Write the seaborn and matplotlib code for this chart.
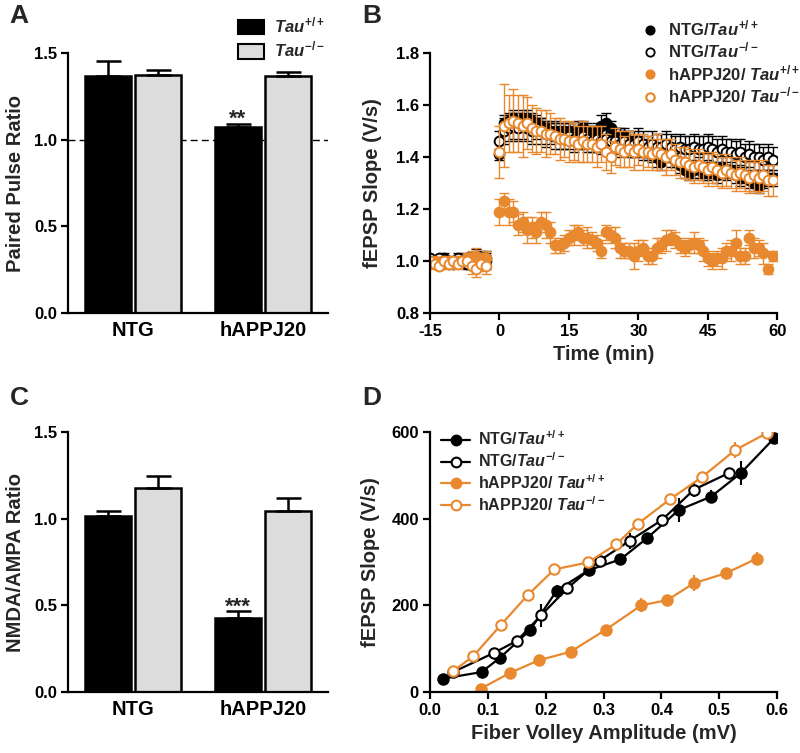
import numpy as np
import pandas as pd
import seaborn as sns
import matplotlib.pyplot as plt
from matplotlib.patches import Patch
from matplotlib.lines import Line2D

sns.set_theme(style='ticks')
plt.rcParams['font.family'] = ['Liberation Sans', 'DejaVu Sans']
plt.rcParams['font.weight'] = 'bold'
plt.rcParams['axes.labelweight'] = 'bold'
plt.rcParams['axes.unicode_minus'] = False
plt.rcParams['mathtext.fontset'] = 'custom'
plt.rcParams['mathtext.it'] = 'Liberation Sans:italic:bold'
plt.rcParams['mathtext.rm'] = 'Liberation Sans:bold'
plt.rcParams['mathtext.bf'] = 'Liberation Sans:bold'

ORANGE = '#E8892F'
GREY = '#DCDCDC'

# ---------------- data ----------------
groups = ['NTG', 'hAPPJ20']
genos = ['wt', 'ko']
# order: NTG wt, NTG ko, hAPPJ20 wt, hAPPJ20 ko
ppr_mean = [1.365, 1.371, 1.071, 1.365]
ppr_sem = [0.087, 0.029, 0.021, 0.023]
nmda_mean = [1.018, 1.176, 0.428, 1.043]
nmda_sem = [0.025, 0.071, 0.037, 0.075]

# panel B : baseline (-15..-3 min) and post-tetanus (0..59 min)
t_base = [-15, -14, -13, -12, -11, -10, -9, -8, -7, -6, -5, -4, -3]
t_post = list(range(0, 60))

ntg_wt_base = [1.00, 0.99, 1.00, 1.01, 1.00, 0.99, 1.00, 1.00, 1.01, 1.00, 1.015, 1.00, 1.01]
ntg_ko_base = [1.01, 1.00, 1.01, 1.00, 0.99, 1.00, 1.01, 1.00, 0.99, 1.00, 1.00, 1.01, 1.00]
app_wt_base = [0.99, 1.00, 0.98, 0.99, 1.00, 0.99, 1.00, 1.00, 1.01, 1.01, 1.02, 1.00, 1.01]
app_ko_base = [1.00, 0.99, 0.98, 1.00, 0.99, 1.00, 0.99, 1.00, 1.00, 0.98, 0.97, 0.99, 0.98]
base_err = [0.01, 0.015, 0.01, 0.02, 0.015, 0.01, 0.02, 0.015, 0.02, 0.03, 0.03, 0.03, 0.03]

ntg_wt_post = [1.41, 1.53, 1.54, 1.55, 1.54, 1.55, 1.55, 1.54, 1.53, 1.52,
               1.51, 1.50, 1.50, 1.49, 1.50, 1.50, 1.49, 1.50, 1.51, 1.50,
               1.49, 1.50, 1.52, 1.53, 1.51, 1.48, 1.47, 1.48, 1.46, 1.44,
               1.45, 1.43, 1.42, 1.41, 1.40, 1.38, 1.41, 1.40, 1.39, 1.37,
               1.35, 1.34, 1.35, 1.36, 1.34, 1.34, 1.35, 1.33, 1.36, 1.34,
               1.35, 1.33, 1.32, 1.33, 1.31, 1.30, 1.29, 1.31, 1.32, 1.32]
ntg_wt_err = [0.02, 0.03, 0.03, 0.03, 0.03, 0.03, 0.03, 0.03, 0.03, 0.03,
              0.03, 0.03, 0.04, 0.03, 0.03, 0.03, 0.04, 0.04, 0.03, 0.03,
              0.03, 0.03, 0.04, 0.04, 0.03, 0.03, 0.04, 0.03, 0.03, 0.04,
              0.03, 0.04, 0.03, 0.03, 0.04, 0.03, 0.03, 0.04, 0.03, 0.03,
              0.03, 0.03, 0.03, 0.04, 0.03, 0.03, 0.03, 0.03, 0.04, 0.03,
              0.03, 0.03, 0.03, 0.03, 0.03, 0.03, 0.03, 0.03, 0.03, 0.03]

ntg_ko_post = [1.46, 1.50, 1.51, 1.52, 1.51, 1.52, 1.51, 1.50, 1.51, 1.50,
               1.49, 1.49, 1.48, 1.48, 1.47, 1.48, 1.47, 1.47, 1.48, 1.47,
               1.46, 1.47, 1.46, 1.47, 1.46, 1.46, 1.45, 1.46, 1.45, 1.45,
               1.46, 1.45, 1.44, 1.45, 1.44, 1.44, 1.45, 1.44, 1.43, 1.44,
               1.43, 1.43, 1.44, 1.43, 1.43, 1.44, 1.43, 1.42, 1.43, 1.42,
               1.42, 1.41, 1.42, 1.40, 1.41, 1.40, 1.40, 1.39, 1.40, 1.39]
ntg_ko_err = [0.04, 0.05, 0.05, 0.05, 0.05, 0.05, 0.05, 0.05, 0.04, 0.05,
              0.05, 0.04, 0.05, 0.05, 0.04, 0.05, 0.05, 0.04, 0.05, 0.05,
              0.04, 0.05, 0.05, 0.04, 0.05, 0.05, 0.05, 0.04, 0.05, 0.05,
              0.05, 0.05, 0.04, 0.05, 0.05, 0.05, 0.05, 0.05, 0.05, 0.05,
              0.05, 0.05, 0.05, 0.05, 0.05, 0.05, 0.05, 0.05, 0.05, 0.05,
              0.05, 0.05, 0.05, 0.05, 0.05, 0.05, 0.05, 0.05, 0.05, 0.05]

app_wt_post = [1.19, 1.23, 1.19, 1.19, 1.14, 1.15, 1.12, 1.13, 1.11, 1.15,
               1.14, 1.11, 1.06, 1.06, 1.07, 1.09, 1.10, 1.11, 1.09, 1.09,
               1.08, 1.07, 1.04, 1.11, 1.10, 1.09, 1.05, 1.04, 1.04, 1.02,
               1.04, 1.05, 1.02, 1.02, 1.05, 1.06, 1.08, 1.09, 1.08, 1.06,
               1.05, 1.06, 1.07, 1.06, 1.04, 1.01, 1.00, 1.01, 1.01, 1.04,
               1.04, 1.07, 1.02, 1.02, 1.09, 1.05, 1.05, 1.03, 0.97, 1.02]
app_wt_err = [0.05, 0.03, 0.05, 0.04, 0.04, 0.04, 0.05, 0.04, 0.04, 0.04,
              0.05, 0.04, 0.03, 0.03, 0.03, 0.03, 0.04, 0.03, 0.03, 0.04,
              0.03, 0.03, 0.03, 0.03, 0.03, 0.04, 0.04, 0.03, 0.03, 0.05,
              0.04, 0.03, 0.03, 0.03, 0.04, 0.03, 0.04, 0.03, 0.03, 0.03,
              0.03, 0.03, 0.04, 0.03, 0.04, 0.03, 0.03, 0.03, 0.04, 0.03,
              0.04, 0.05, 0.03, 0.03, 0.03, 0.04, 0.03, 0.04, 0.02, 0.02]

app_ko_post = [1.42, 1.52, 1.53, 1.54, 1.53, 1.52, 1.53, 1.51, 1.50, 1.50,
               1.49, 1.49, 1.48, 1.47, 1.47, 1.46, 1.46, 1.45, 1.46, 1.45,
               1.45, 1.44, 1.45, 1.42, 1.40, 1.44, 1.43, 1.42, 1.43, 1.42,
               1.43, 1.42, 1.42, 1.41, 1.42, 1.41, 1.40, 1.41, 1.39, 1.38,
               1.38, 1.37, 1.36, 1.37, 1.36, 1.35, 1.36, 1.35, 1.34, 1.35,
               1.34, 1.33, 1.34, 1.33, 1.32, 1.33, 1.32, 1.33, 1.31, 1.31]
app_ko_err = [0.10, 0.16, 0.11, 0.12, 0.11, 0.12, 0.10, 0.09, 0.09, 0.08,
              0.09, 0.08, 0.07, 0.08, 0.07, 0.08, 0.07, 0.07, 0.08, 0.07,
              0.07, 0.08, 0.07, 0.07, 0.06, 0.07, 0.07, 0.06, 0.07, 0.07,
              0.06, 0.07, 0.06, 0.06, 0.07, 0.06, 0.07, 0.06, 0.06, 0.06,
              0.06, 0.06, 0.06, 0.06, 0.06, 0.06, 0.06, 0.06, 0.06, 0.06,
              0.06, 0.06, 0.06, 0.06, 0.06, 0.06, 0.06, 0.06, 0.06, 0.06]

# panel D : input-output curves
fv_ntg_wt = [0.023, 0.089, 0.121, 0.173, 0.219, 0.274, 0.329, 0.375, 0.430, 0.486, 0.537, 0.595]
io_ntg_wt = [31, 46, 79, 143, 234, 281, 306, 355, 420, 451, 505, 586]
er_ntg_wt = [6, 6, 10, 10, 12, 14, 12, 12, 28, 14, 28, 8]
fv_ntg_ko = [0.040, 0.110, 0.150, 0.192, 0.237, 0.293, 0.345, 0.401, 0.456, 0.516]
io_ntg_ko = [46, 90, 118, 177, 239, 303, 349, 397, 467, 505]
er_ntg_ko = [6, 8, 10, 26, 12, 12, 18, 10, 18, 12]
fv_app_wt = [0.088, 0.138, 0.1875, 0.243, 0.304, 0.365, 0.410, 0.456, 0.511, 0.565]
io_app_wt = [8, 44, 73, 93, 144, 200, 212, 251, 274, 308]
er_app_wt = [6, 6, 6, 6, 8, 16, 10, 18, 12, 16]
fv_app_ko = [0.040, 0.075, 0.122, 0.169, 0.215, 0.273, 0.322, 0.359, 0.415, 0.470, 0.527, 0.583]
io_app_ko = [48, 83, 154, 224, 283, 299, 341, 388, 445, 496, 558, 598]
er_app_ko = [6, 6, 8, 8, 8, 8, 10, 10, 10, 12, 18, 8]

lab_ntg_wt = r'NTG/$Tau^{+/+}$'
lab_ntg_ko = r'NTG/$Tau^{-/-}$'
lab_app_wt = r'hAPPJ20/ $Tau^{+/+}$'
lab_app_ko = r'hAPPJ20/ $Tau^{-/-}$'

# ---------------- figure ----------------
fig = plt.figure(figsize=(8.0, 7.53), dpi=100)
axA = fig.add_axes([0.085, 0.5843, 0.325, 0.3453])
axB = fig.add_axes([0.5375, 0.5843, 0.434, 0.3453])
axC = fig.add_axes([0.085, 0.0810, 0.325, 0.3453])
axD = fig.add_axes([0.5375, 0.0810, 0.434, 0.3453])


def style_axis(ax):
    sns.despine(ax=ax)
    for s in ['left', 'bottom']:
        ax.spines[s].set_linewidth(1.6)
        ax.spines[s].set_color('black')
    ax.tick_params(direction='out', length=5, width=1.6, labelsize=12, colors='black', pad=3)
    for lab in ax.get_xticklabels() + ax.get_yticklabels():
        lab.set_fontweight('bold')


def bar_panel(ax, means, sems, ylabel, stars):
    df = pd.DataFrame({'group': [groups[0], groups[0], groups[1], groups[1]],
                       'geno': [genos[0], genos[1], genos[0], genos[1]],
                       'value': means})
    sns.barplot(data=df, x='group', y='value', hue='geno', hue_order=genos,
                palette=['black', GREY], edgecolor='black', linewidth=1.8,
                width=0.77, gap=0.08, errorbar=None, legend=False, ax=ax)
    sem_by_geno = [[sems[0], sems[2]], [sems[1], sems[3]]]
    for cont, errs in zip(ax.containers, sem_by_geno):
        for bar, e in zip(cont, errs):
            xc = bar.get_x() + bar.get_width() / 2
            h = bar.get_height()
            ax.errorbar([xc], [h], yerr=[[0], [e]], fmt='none', ecolor='black',
                        elinewidth=1.8, capsize=9, capthick=1.8, zorder=1)
    # significance stars above hAPPJ20 / Tau+/+
    bar = ax.containers[0][1]
    xc = bar.get_x() + bar.get_width() / 2
    ax.text(xc, means[2] + sems[2] - 0.005, stars, ha='center', va='baseline',
            fontsize=16, fontweight='bold')
    ax.set_xlim(-0.5, 1.5)
    ax.set_ylim(0, 1.5)
    ax.set_yticks([0.0, 0.5, 1.0, 1.5])
    ax.set_yticklabels(['0.0', '0.5', '1.0', '1.5'])
    ax.set_xlabel('')
    ax.set_ylabel(ylabel, fontsize=14.5, labelpad=6)
    style_axis(ax)
    ax.tick_params(axis='x', length=0, labelsize=14.5, pad=6)


# ---- A ----
bar_panel(axA, ppr_mean, ppr_sem, 'Paired Pulse Ratio', '**')
axA.axhline(1.0, color='black', lw=1.0, ls=(0, (5, 3)), zorder=0.5)
handlesA = [Patch(facecolor='black', edgecolor='black', linewidth=1.5, label=r'$Tau^{+/+}$'),
            Patch(facecolor=GREY, edgecolor='black', linewidth=1.5, label=r'$Tau^{-/-}$')]
axA.legend(handles=handlesA, loc='upper left', bbox_to_anchor=(0.62, 1.175), frameon=False,
           fontsize=12, handlelength=1.6, handleheight=1.0, labelspacing=0.25,
           handletextpad=0.6, borderpad=0)

# ---- C ----
bar_panel(axC, nmda_mean, nmda_sem, 'NMDA/AMPA Ratio', '***')

# ---- B ----
seriesB = [
    (ntg_wt_base, ntg_wt_post, ntg_wt_err, 'black', 'black'),
    (ntg_ko_base, ntg_ko_post, ntg_ko_err, 'black', 'white'),
    (app_wt_base, app_wt_post, app_wt_err, ORANGE, ORANGE),
    (app_ko_base, app_ko_post, app_ko_err, ORANGE, 'white'),
]
for base, post, err, col, fc in seriesB:
    tt = t_base + t_post
    vv = base + post
    ee = base_err + err
    axB.errorbar(tt, vv, yerr=ee, fmt='none', ecolor=col, elinewidth=1.0,
                 capsize=3.5, capthick=1.0)
    sns.lineplot(x=tt, y=vv, ax=axB, color=col, marker='o', linestyle='',
                 markersize=7, markerfacecolor=fc, markeredgecolor=col,
                 markeredgewidth=1.4, errorbar=None)
axB.set_xlim(-15, 60)
axB.set_ylim(0.8, 1.8)
axB.set_xticks([-15, 0, 15, 30, 45, 60])
axB.set_yticks([0.8, 1.0, 1.2, 1.4, 1.6, 1.8])
axB.set_xlabel('Time (min)', fontsize=14.5, labelpad=4)
axB.set_ylabel('fEPSP Slope (V/s)', fontsize=14.5, labelpad=10)
style_axis(axB)
handlesB = [Line2D([], [], ls='', marker='o', markersize=6, color='black', mfc='black', mew=1.3, label=lab_ntg_wt),
            Line2D([], [], ls='', marker='o', markersize=6, color='black', mfc='white', mew=1.3, label=lab_ntg_ko),
            Line2D([], [], ls='', marker='o', markersize=6, color=ORANGE, mfc=ORANGE, mew=1.3, label=lab_app_wt),
            Line2D([], [], ls='', marker='o', markersize=6, color=ORANGE, mfc='white', mew=1.6, label=lab_app_ko)]
axB.legend(handles=handlesB, loc='upper left', bbox_to_anchor=(0.58, 1.165), frameon=False,
           fontsize=12, labelspacing=0.15, handletextpad=0.5, handlelength=1.2, borderpad=0)

# ---- D ----
seriesD = [
    (fv_ntg_wt, io_ntg_wt, er_ntg_wt, 'black', 'black'),
    (fv_ntg_ko, io_ntg_ko, er_ntg_ko, 'black', 'white'),
    (fv_app_wt, io_app_wt, er_app_wt, ORANGE, ORANGE),
    (fv_app_ko, io_app_ko, er_app_ko, ORANGE, 'white'),
]
for xv, yv, ev, col, fc in seriesD:
    axD.errorbar(xv, yv, yerr=ev, fmt='none', ecolor=col, elinewidth=1.5, capsize=0)
    sns.lineplot(x=xv, y=yv, ax=axD, color=col, marker='o', linewidth=1.6,
                 markersize=7.5, markerfacecolor=fc, markeredgecolor=col,
                 markeredgewidth=1.5, errorbar=None, sort=False)
axD.set_xlim(0, 0.6)
axD.set_ylim(0, 600)
axD.set_xticks([0.0, 0.1, 0.2, 0.3, 0.4, 0.5, 0.6])
axD.set_xticklabels(['0.0', '0.1', '0.2', '0.3', '0.4', '0.5', '0.6'])
axD.set_yticks([0, 200, 400, 600])
axD.set_xlabel('Fiber Volley Amplitude (mV)', fontsize=14.5, labelpad=4)
axD.set_ylabel('fEPSP Slope (V/s)', fontsize=14.5, labelpad=8)
style_axis(axD)
handlesD = [Line2D([], [], marker='o', markersize=7, color='black', mfc='black', lw=1.6, mew=1.5, label=lab_ntg_wt),
            Line2D([], [], marker='o', markersize=7, color='black', mfc='white', lw=1.6, mew=1.5, label=lab_ntg_ko),
            Line2D([], [], marker='o', markersize=7, color=ORANGE, mfc=ORANGE, lw=1.6, mew=1.5, label=lab_app_wt),
            Line2D([], [], marker='o', markersize=7, color=ORANGE, mfc='white', lw=1.6, mew=1.5, label=lab_app_ko)]
axD.legend(handles=handlesD, loc='upper left', bbox_to_anchor=(0.01, 1.04), frameon=False,
           fontsize=11.5, labelspacing=0.2, handletextpad=0.5, handlelength=1.8, borderpad=0)

# panel letters
for letter, (x, y) in zip('ABCD', [(0.012, 0.995), (0.453, 0.995), (0.012, 0.488), (0.453, 0.488)]):
    fig.text(x, y, letter, fontsize=19, fontweight='bold', va='top', ha='left')

fig.savefig('out.png', dpi=100)
